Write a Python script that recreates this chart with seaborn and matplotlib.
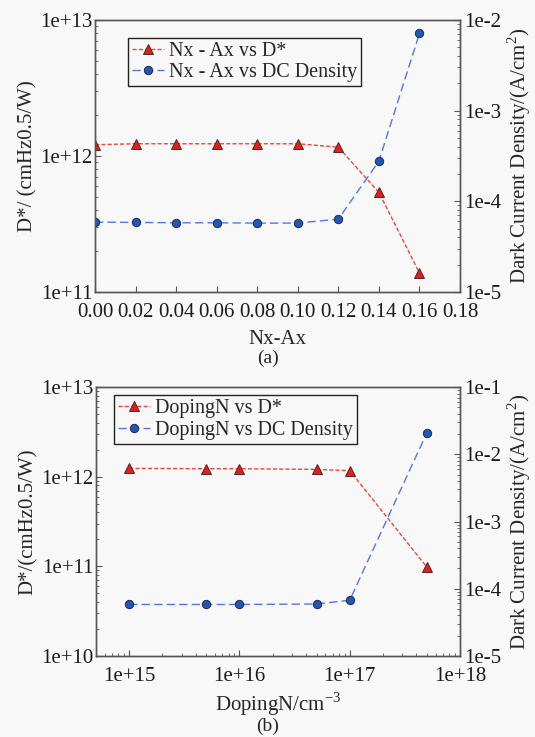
import numpy as np
import pandas as pd
import matplotlib
matplotlib.use("Agg")
import matplotlib.pyplot as plt
import matplotlib.ticker as mticker
import seaborn as sns

# ---- data ----
nx_ax = [0.00, 0.02, 0.04, 0.06, 0.08, 0.10, 0.12, 0.14, 0.16]
dstar_a = [1.21e12, 1.23e12, 1.23e12, 1.23e12, 1.23e12, 1.23e12, 1.16e12, 5.4e11, 1.38e11]
dc_a = [5.9e-5, 5.85e-5, 5.8e-5, 5.8e-5, 5.75e-5, 5.75e-5, 6.37e-5, 2.77e-4, 7.1e-3]

doping = [1e15, 5e15, 1e16, 5e16, 1e17, 5e17]
dstar_b = [1.24e12, 1.23e12, 1.23e12, 1.21e12, 1.17e12, 9.8e10]
dc_b = [5.8e-5, 5.8e-5, 5.8e-5, 5.9e-5, 6.7e-5, 2.08e-2]

labels_a = ["Nx - Ax vs D*", "Nx - Ax vs DC Density"]
labels_b = ["DopingN vs D*", "DopingN vs DC Density"]

sns.set_style("ticks")
plt.rcParams["font.family"] = ["Liberation Serif", "DejaVu Serif"]
plt.rcParams["mathtext.fontset"] = "custom"
plt.rcParams["mathtext.rm"] = "Liberation Serif"
plt.rcParams["font.size"] = 15

BG = "#f8f8f8"
RED_LINE = "#e8483a"
RED_MK = "#dd2020"
BLUE_LINE = "#5577dd"
BLUE_MK = "#2458b0"
FS = 15

fig = plt.figure(figsize=(5.35, 7.37), dpi=100, facecolor=BG)

def exp_fmt():
    def f(v, pos):
        if v <= 0:
            return ""
        e = int(round(np.log10(v)))
        return f"1e+{e}" if e >= 0 else f"1e{e}"
    return mticker.FuncFormatter(f)

def style_ax(ax):
    ax.set_facecolor(BG)
    for s in ax.spines.values():
        s.set_color("#555555")
        s.set_linewidth(1.0)
    ax.tick_params(direction="in", which="both", labelsize=FS, colors="#555555",
                   labelcolor="#1a1a1a")
    ax.tick_params(which="major", length=4)
    ax.tick_params(which="minor", length=2.5)

def panel(rect, x, d, c, labels, xlabel, ylabel, ylim_l, ylim_r, logx, xlim,
          caption, caption_y, leg_anchor, xlabelpad):
    ax = fig.add_axes(rect)
    ax2 = ax.twinx()
    df1 = pd.DataFrame({"x": x, "y": d})
    df2 = pd.DataFrame({"x": x, "y": c})
    sns.lineplot(data=df1, x="x", y="y", ax=ax, color=RED_LINE, linestyle=(0, (3, 1.5)),
                 lw=1.0, marker="^", markersize=6.5, markerfacecolor=RED_MK,
                 markeredgecolor="#5a2020", markeredgewidth=0.7, label=labels[0], legend=False)
    sns.lineplot(data=df2, x="x", y="y", ax=ax2, color=BLUE_LINE, linestyle=(0, (6, 3)),
                 lw=1.0, marker="o", markersize=6, markerfacecolor=BLUE_MK,
                 markeredgecolor="#1a2a50", markeredgewidth=0.7, label=labels[1], legend=False)
    ax.set_yscale("log")
    ax2.set_yscale("log")
    if logx:
        ax.set_xscale("log")
        ax.xaxis.set_major_formatter(exp_fmt())
    ax.set_xlim(*xlim)
    ax.set_ylim(*ylim_l)
    ax2.set_ylim(*ylim_r)
    ax.yaxis.set_major_formatter(exp_fmt())
    ax2.yaxis.set_major_formatter(exp_fmt())
    ax.yaxis.set_minor_formatter(mticker.NullFormatter())
    ax2.yaxis.set_minor_formatter(mticker.NullFormatter())
    style_ax(ax)
    style_ax(ax2)
    ax.tick_params(axis="x", pad=8)
    ax.tick_params(axis="y", pad=2)
    ax2.tick_params(axis="y", pad=3)
    ax.set_xlabel(xlabel, fontsize=FS, labelpad=xlabelpad)
    ax.set_ylabel(ylabel, fontsize=FS, labelpad=2)
    ax2.set_ylabel("Dark Current Density/(A/cm$^2$)", fontsize=FS, labelpad=3)
    h1, l1 = ax.get_legend_handles_labels()
    h2, l2 = ax2.get_legend_handles_labels()
    leg = ax2.legend(h1 + h2, l1 + l2, loc="upper left", bbox_to_anchor=leg_anchor,
                     fontsize=14.5, frameon=True, fancybox=False, handlelength=1.6,
                     handletextpad=0.25, borderpad=0.2, labelspacing=0.1,
                     borderaxespad=0.0)
    leg.get_frame().set_edgecolor("#222222")
    leg.get_frame().set_linewidth(1.0)
    leg.get_frame().set_facecolor(BG)
    leg.get_frame().set_alpha(1)
    fig.text(0.5, caption_y, caption, ha="center", va="center", fontsize=14)
    return ax, ax2

ax_a, ax2_a = panel([0.1776, 0.6038, 0.6822, 0.3691], nx_ax, dstar_a, dc_a, labels_a,
                    "Nx-Ax", "D*/ (cmHz0.5/W)", (1e11, 1e13), (1e-5, 1e-2), False,
                    (0.0, 0.18), "(a)", 1 - 358 / 737, (0.09, 0.935), 6)
ax_a.set_xticks(np.arange(0, 0.181, 0.02))
ax_a.xaxis.set_major_formatter(mticker.FormatStrFormatter("%.2f"))

ax_b, ax2_b = panel([0.1794, 0.1103, 0.6804, 0.3642], doping, dstar_b, dc_b, labels_b,
                    "DopingN/cm$^{-3}$", "D*/(cmHz0.5/W)", (1e10, 1e13), (1e-5, 1e-1), True,
                    (5e14, 1e18), "(b)", 1 - 726 / 737, (0.05, 0.97), 3)

fig.savefig("out.png", dpi=100, facecolor=BG)
